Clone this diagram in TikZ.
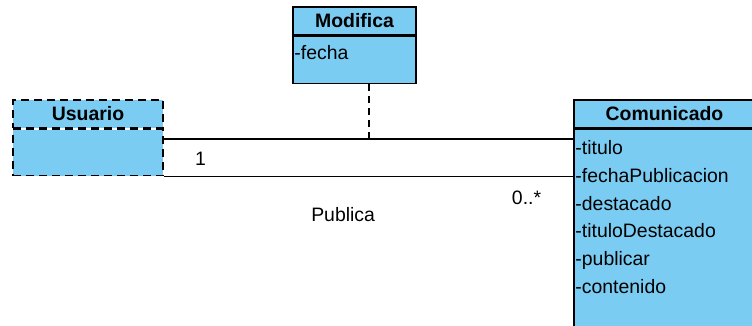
\documentclass[tikz,border=0pt]{standalone}
\usepackage{fontspec}
\setmainfont{Liberation Sans}
\usetikzlibrary{positioning}
\definecolor{umlblue}{RGB}{122,204,242}
\tikzset{
  cls/.style={draw=black, line width=1.5bp, fill=umlblue, inner sep=0pt},
  clshead/.style={cls, minimum height=28bp, font=\bfseries\fontsize{19.5}{20}\selectfont},
  clsbody/.style={cls},
  attrs/.style={anchor=base west, inner sep=0pt, align=left, font=\fontsize{19.5}{28}\selectfont},
  assoc/.style={line width=1.5bp},
  mult/.style={inner sep=0pt, font=\fontsize{19.5}{20}\selectfont},
}
\begin{document}
\begin{tikzpicture}[x=1bp, y=-1bp]
\useasboundingbox (0,0) rectangle (752,325);
\clip (0,0) rectangle (752,325);
% association class
\node[clshead, minimum width=123bp] (modifica) at (354.5,21) {Modifica};
\node[clsbody, minimum width=123bp, minimum height=47bp, below=0pt of modifica] (modificaAttr) {};
\node[attrs] (modificaText) at ([shift={(2,24)}]modificaAttr.north west) {-fecha};
% Usuario
\node[clshead, dash pattern=on 8bp off 5bp, minimum width=150bp] (usuario) at (88,114) {Usuario};
\node[clsbody, dash pattern=on 8bp off 5bp, minimum width=150bp, minimum height=46bp, below=0pt of usuario] (usuarioAttr) {};
% Comunicado
\node[clshead, minimum width=181bp] (comunicado) at (664.5,114) {Comunicado};
\node[clsbody, minimum width=181bp, minimum height=260bp, below=0pt of comunicado] (comunicadoAttr) {};
% base is the last line here
\node[attrs] (comunicadoText) at ([shift={(2,165)}]comunicadoAttr.north west)
  {-titulo\\-fechaPublicacion\\-destacado\\-tituloDestacado\\-publicar\\-contenido};
% Publica
\draw[assoc] ([yshift=-10bp]usuarioAttr.north east) coordinate (pubTop)
  -- (pubTop -| comunicadoAttr.west) coordinate[pos=0.5] (pubMid);
\draw[assoc] (usuarioAttr.south east)
  -- (usuarioAttr.south east -| comunicadoAttr.west)
  node[mult, pos=0.09, above=10bp] (multUsuario) {1}
  node[mult, pos=0.438, below=30bp] (publica) {Publica}
  node[mult, pos=0.886, below=14bp] (multComunicado) {0..*};
\draw[assoc, line width=2bp, dash pattern=on 7bp off 5bp] (pubMid) -- (pubMid |- modificaAttr.south);
\end{tikzpicture}
\end{document}
